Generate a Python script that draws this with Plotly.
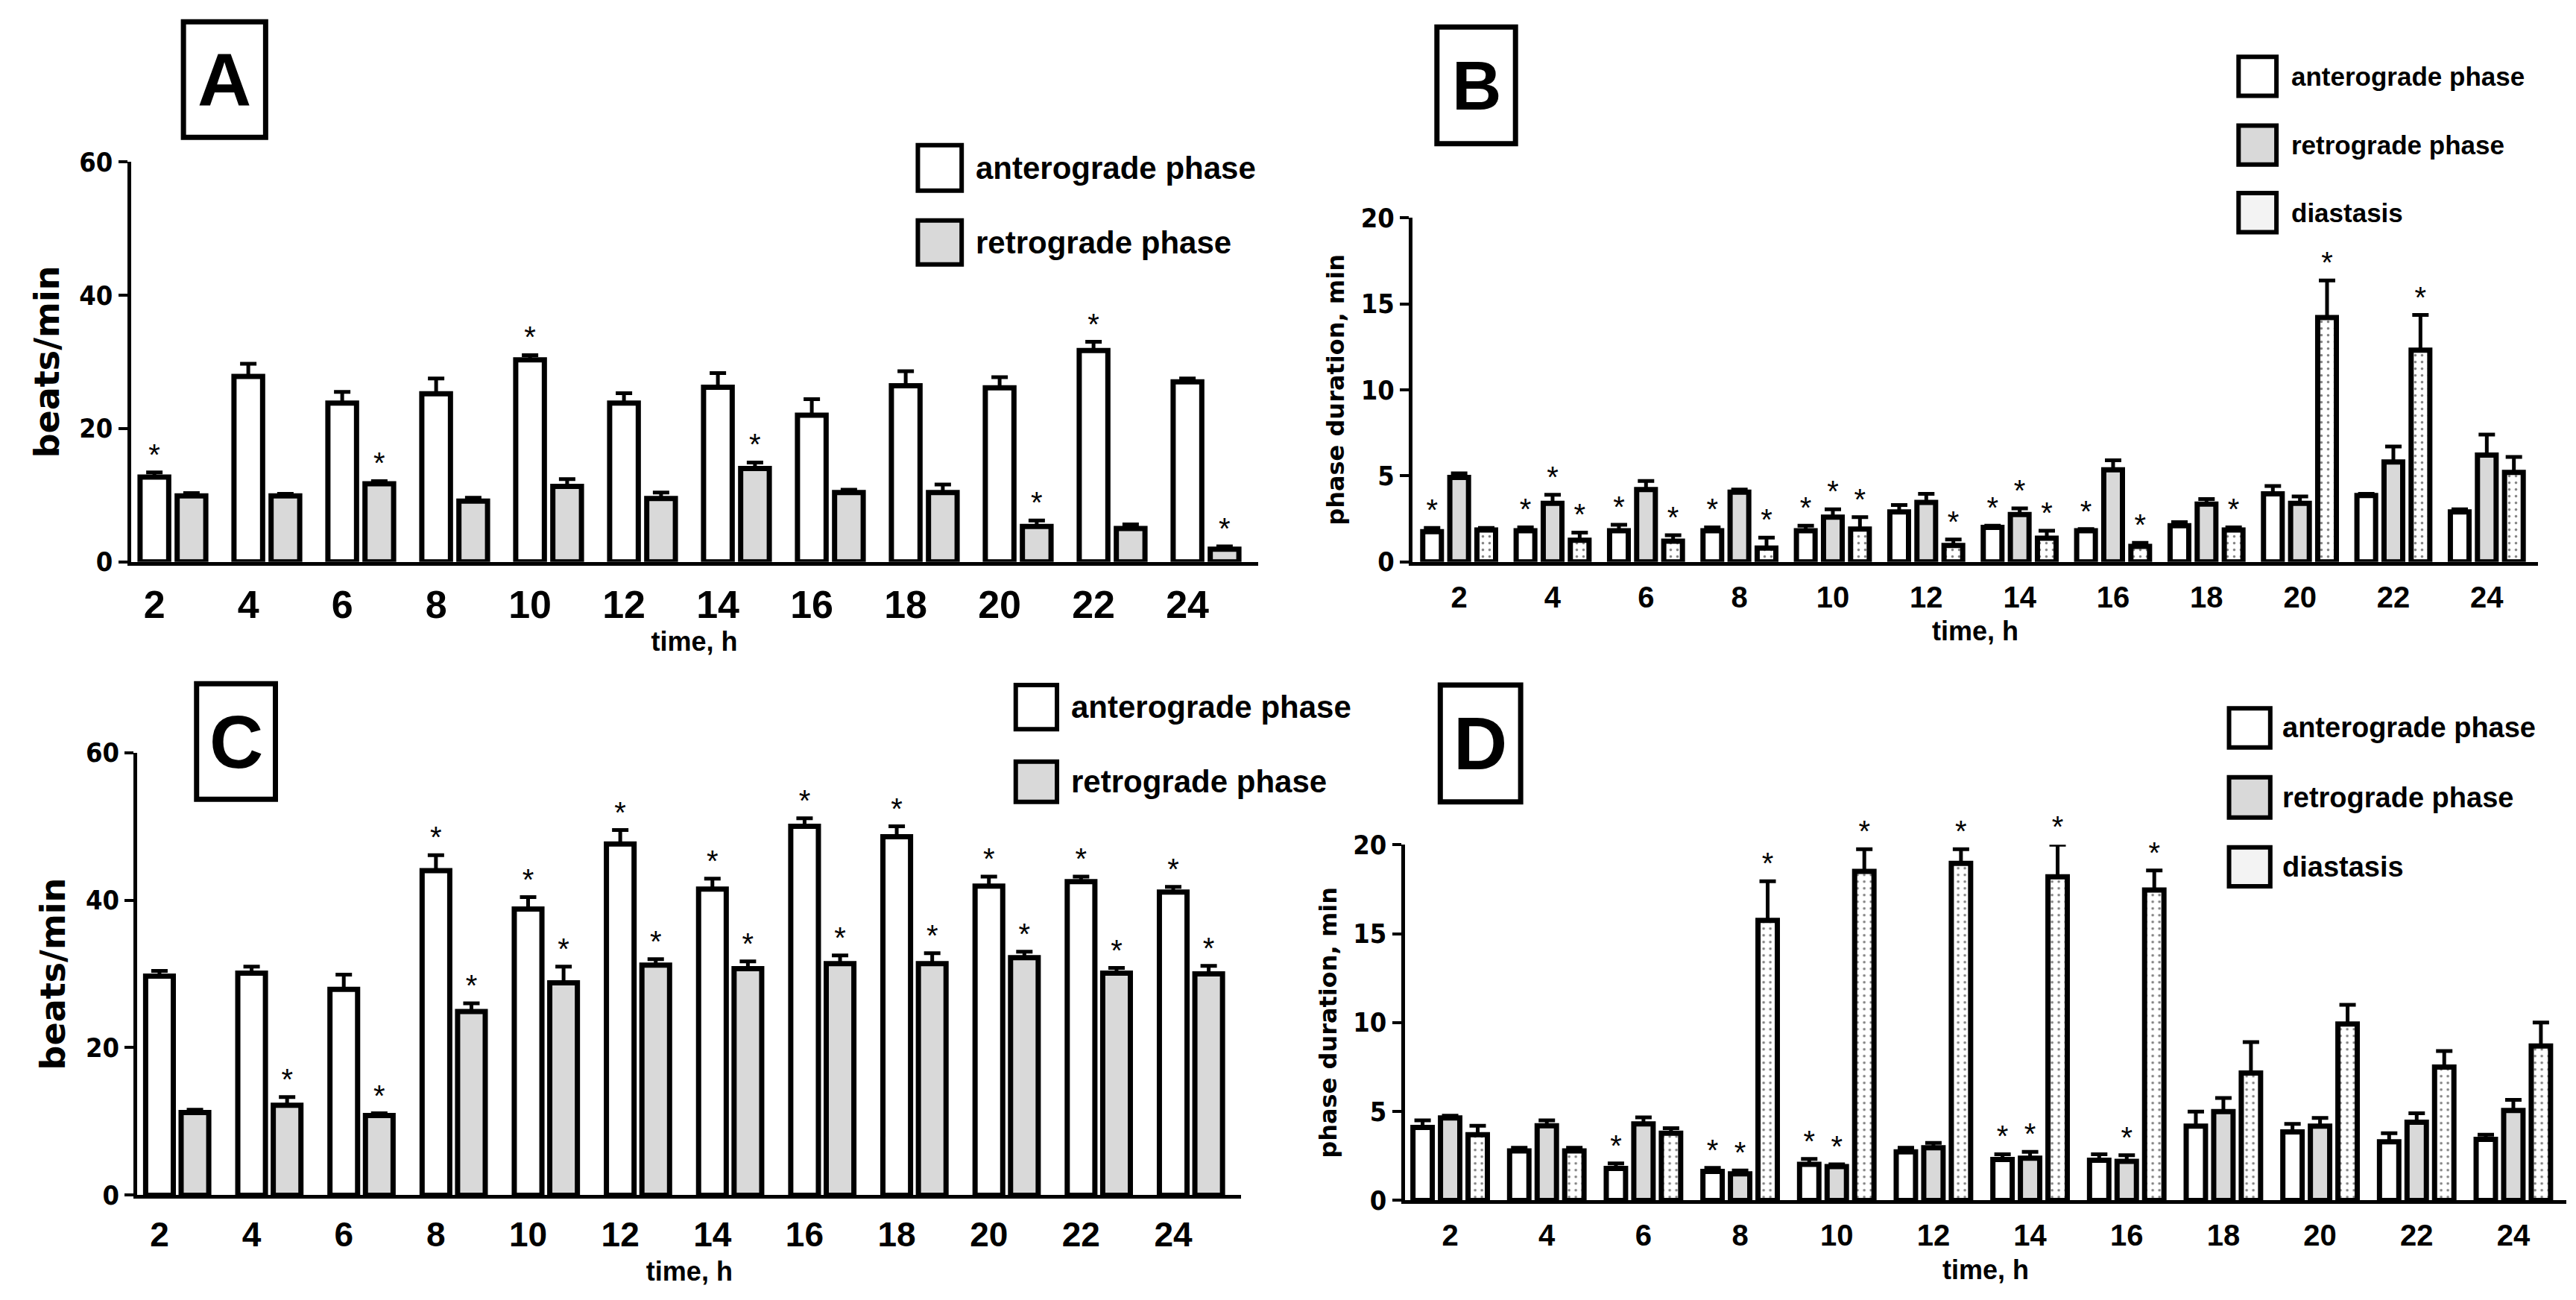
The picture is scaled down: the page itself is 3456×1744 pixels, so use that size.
import plotly.graph_objects as go

hours = [2, 4, 6, 8, 10, 12, 14, 16, 18, 20, 22, 24]

# panel A - beats/min
a_ant = [12.7, 27.8, 23.8, 25.2, 30.3, 23.8, 26.2, 22.0, 26.4, 26.1, 31.7, 27.0]
a_ant_err = [0.7, 1.9, 1.7, 2.3, 0.7, 1.5, 2.1, 2.4, 2.2, 1.6, 1.3, 0.5]
a_ret = [9.9, 9.9, 11.7, 9.1, 11.3, 9.5, 14.0, 10.4, 10.4, 5.3, 5.0, 1.9]
a_ret_err = [0.4, 0.3, 0.4, 0.5, 1.1, 0.9, 0.9, 0.4, 1.2, 0.9, 0.6, 0.4]
a_ant_sig = [1, 0, 0, 0, 1, 0, 0, 0, 0, 0, 1, 0]
a_ret_sig = [0, 0, 1, 0, 0, 0, 1, 0, 0, 1, 0, 1]

# panel B - phase duration, min
b_ant = [1.75, 1.8, 1.8, 1.8, 1.8, 2.9, 2.0, 1.8, 2.1, 3.95, 3.85, 2.9]
b_ant_err = [0.22, 0.2, 0.35, 0.2, 0.3, 0.4, 0.1, 0.1, 0.2, 0.45, 0.1, 0.15]
b_ret = [4.9, 3.4, 4.2, 4.05, 2.6, 3.45, 2.75, 5.35, 3.35, 3.4, 5.8, 6.2]
b_ret_err = [0.24, 0.5, 0.5, 0.15, 0.45, 0.5, 0.35, 0.55, 0.3, 0.4, 0.9, 1.2]
b_dia = [1.85, 1.25, 1.2, 0.8, 1.9, 0.95, 1.37, 0.9, 1.85, 14.2, 12.3, 5.2]
b_dia_err = [0.12, 0.45, 0.35, 0.6, 0.7, 0.35, 0.43, 0.2, 0.15, 2.15, 2.05, 0.9]
b_ant_sig = [1, 1, 1, 1, 1, 0, 1, 1, 0, 0, 0, 0]
b_ret_sig = [0, 1, 0, 0, 1, 0, 1, 0, 0, 0, 0, 0]
b_dia_sig = [0, 1, 1, 1, 1, 1, 1, 1, 1, 1, 1, 0]

# panel C - beats/min
c_ant = [29.7, 30.1, 27.9, 44.0, 38.8, 47.6, 41.5, 50.0, 48.6, 41.9, 42.5, 41.1]
c_ant_err = [0.7, 0.9, 2.0, 2.1, 1.6, 1.9, 1.4, 1.1, 1.4, 1.3, 0.7, 0.7]
c_ret = [11.2, 12.2, 10.8, 24.9, 28.8, 31.2, 30.7, 31.4, 31.4, 32.2, 30.1, 30.0]
c_ret_err = [0.4, 1.1, 0.3, 1.1, 2.2, 0.8, 1.0, 1.1, 1.4, 0.8, 0.7, 1.1]
c_ant_sig = [0, 0, 0, 1, 1, 1, 1, 1, 1, 1, 1, 1]
c_ret_sig = [0, 1, 1, 1, 1, 1, 1, 1, 1, 1, 1, 1]

# panel D - phase duration, min
d_ant = [4.1, 2.78, 1.8, 1.63, 2.03, 2.73, 2.3, 2.26, 4.18, 3.85, 3.3, 3.43]
d_ant_err = [0.4, 0.18, 0.28, 0.2, 0.3, 0.23, 0.3, 0.34, 0.82, 0.45, 0.48, 0.27]
d_ret = [4.64, 4.2, 4.3, 1.5, 1.9, 2.96, 2.38, 2.2, 5.0, 4.18, 4.4, 5.06]
d_ret_err = [0.12, 0.3, 0.37, 0.18, 0.13, 0.28, 0.35, 0.34, 0.76, 0.46, 0.5, 0.6]
d_dia = [3.7, 2.78, 3.78, 15.75, 18.5, 18.95, 18.2, 17.45, 7.16, 9.92, 7.5, 8.68]
d_dia_err = [0.5, 0.18, 0.28, 2.2, 1.25, 0.8, 1.8, 1.1, 1.74, 1.08, 0.9, 1.32]
d_ant_sig = [0, 0, 1, 1, 1, 0, 1, 0, 0, 0, 0, 0]
d_ret_sig = [0, 0, 0, 1, 1, 0, 1, 1, 0, 0, 0, 0]
d_dia_sig = [0, 0, 0, 1, 1, 1, 1, 1, 0, 0, 0, 0]

names = ["anterograde phase", "retrograde phase", "diastasis"]
GRAY = "#d9d9d9"
FONT = "Liberation Sans"
NARROW = "Liberation Sans Narrow, DejaVu Sans Condensed, Liberation Sans"
WIDE = "DejaVu Sans"

fig = go.Figure()


def add_series(xa, ya, vals, err, sig, shift, width, fill, dotted=False):
    xs = [h + shift for h in hours]
    pattern = dict(shape=".", fgcolor="black", bgcolor="white", size=9, solidity=0.12) if dotted else None
    fig.add_trace(go.Bar(
        x=hours, y=vals, xaxis=xa, yaxis=ya,
        offset=shift - width / 2, width=width,
        marker=dict(color=fill, line=dict(color="black", width=7), pattern=pattern),
        error_y=dict(type="data", array=err, arrayminus=[0] * len(err), symmetric=False,
                     color="black", thickness=5, width=11),
        showlegend=False,
    ))
    sx = [x for x, s in zip(xs, sig) if s]
    sy = [v + e for v, e, s in zip(vals, err, sig) if s]
    fig.add_trace(go.Scatter(
        x=sx, y=sy, xaxis=xa, yaxis=ya, mode="text", text=["*"] * len(sx),
        textposition="top center", textfont=dict(family=FONT, size=40, color="black"),
        cliponaxis=False, showlegend=False, hoverinfo="skip",
    ))


# A
add_series("x", "y", a_ant, a_ant_err, a_ant_sig, 0.0, 0.61, "white")
add_series("x", "y", a_ret, a_ret_err, a_ret_sig, 0.79, 0.61, GRAY)
# B
add_series("x2", "y2", b_ant, b_ant_err, b_ant_sig, -0.58, 0.4, "white")
add_series("x2", "y2", b_ret, b_ret_err, b_ret_sig, 0.0, 0.4, GRAY)
add_series("x2", "y2", b_dia, b_dia_err, b_dia_sig, 0.58, 0.4, "white", dotted=True)
# C
add_series("x3", "y3", c_ant, c_ant_err, c_ant_sig, 0.0, 0.6, "white")
add_series("x3", "y3", c_ret, c_ret_err, c_ret_sig, 0.77, 0.6, GRAY)
# D
add_series("x4", "y4", d_ant, d_ant_err, d_ant_sig, -0.57, 0.4, "white")
add_series("x4", "y4", d_ret, d_ret_err, d_ret_sig, 0.0, 0.4, GRAY)
add_series("x4", "y4", d_dia, d_dia_err, d_dia_sig, 0.57, 0.4, "white", dotted=True)


def xaxis(domain, rng, anchor, tsize, standoff):
    return dict(domain=domain, range=rng, anchor=anchor, tickvals=hours, ticks="",
                showline=True, linecolor="black", linewidth=5, showgrid=False, zeroline=False,
                tickfont=dict(family=FONT, size=tsize, color="black", weight="bold"),
                ticklabelstandoff=8,
                title=dict(text="time, h", font=dict(family=FONT, size=36, color="black", weight="bold"),
                           standoff=standoff))


def yaxis(domain, rng, tv, anchor, title, tsize):
    return dict(domain=domain, range=rng, anchor=anchor, tickvals=tv, ticks="outside",
                ticklen=12, tickwidth=4, tickcolor="black",
                showline=True, linecolor="black", linewidth=5, showgrid=False, zeroline=False,
                tickfont=dict(family=NARROW, size=36, color="black", weight="bold"),
                title=dict(text=title, font=dict(family=WIDE, size=tsize, color="black", weight="bold"),
                           standoff=14))


fig.update_layout(
    width=3456, height=1744,
    paper_bgcolor="white", plot_bgcolor="white",
    margin=dict(l=0, r=0, t=0, b=0),
    barmode="overlay",
    xaxis=xaxis([0.0485, 0.486], [1.5, 25.5], "y", 52, 6),
    yaxis=yaxis([0.5739, 0.8889], [0, 60], [0, 20, 40, 60], "x", "beats/min", 46),
    xaxis2=xaxis([0.546, 0.983], [1.0, 25.1], "y2", 40, 14),
    yaxis2=yaxis([0.5739, 0.8449], [0, 20], [0, 5, 10, 15, 20], "x2", "phase duration, min", 32),
    xaxis3=xaxis([0.051, 0.4796], [1.52, 25.48], "y3", 46, 14),
    yaxis3=yaxis([0.0749, 0.4236], [0, 60], [0, 20, 40, 60], "x3", "beats/min", 46),
    xaxis4=xaxis([0.543, 0.994], [1.06, 25.1], "y4", 40, 14),
    yaxis4=yaxis([0.0708, 0.3510], [0, 20], [0, 5, 10, 15, 20], "x4", "phase duration, min", 32),
)

shapes = []
annotations = []

# panel letters in boxes
letters = [("A", 0.0689, 0.1008, 0.9083, 0.9993, 100),
           ("B", 0.5555, 0.586, 0.9032, 0.9952, 92),
           ("C", 0.074, 0.1046, 0.3868, 0.4778, 100),
           ("D", 0.5568, 0.588, 0.3847, 0.4768, 100)]
for t, x0, x1, y0, y1, fs in letters:
    shapes.append(dict(type="rect", xref="paper", yref="paper", x0=x0, x1=x1, y0=y0, y1=y1,
                       line=dict(color="black", width=7), fillcolor="white"))
    annotations.append(dict(text=t, xref="paper", yref="paper", x=(x0 + x1) / 2, y=(y0 + y1) / 2,
                            xanchor="center", yanchor="middle", showarrow=False,
                            font=dict(family=FONT, size=fs, color="black", weight="bold")))

# legends
legends = [
    (0.354, 0.371, [(0.8663, 0.9021), (0.8081, 0.8428)], 0.376, 42),
    (0.8667, 0.8814, [(0.9410, 0.9716), (0.8868, 0.9175), (0.8336, 0.8643)], 0.8865, 35),
    (0.392, 0.408, [(0.4420, 0.4768), (0.3847, 0.4164)], 0.413, 42),
    (0.863, 0.879, [(0.4277, 0.4584), (0.3725, 0.4042), (0.3183, 0.3490)], 0.883, 38),
]
fills = ["white", GRAY, "#f3f3f3"]
for x0, x1, rows, tx, fs in legends:
    for i, (y0, y1) in enumerate(rows):
        shapes.append(dict(type="rect", xref="paper", yref="paper", x0=x0, x1=x1, y0=y0, y1=y1,
                           line=dict(color="black", width=6), fillcolor=fills[i]))
        annotations.append(dict(text=names[i], xref="paper", yref="paper", x=tx, y=(y0 + y1) / 2,
                                xanchor="left", yanchor="middle", showarrow=False,
                                font=dict(family=FONT, size=fs, color="black", weight="bold")))

fig.update_layout(shapes=shapes, annotations=annotations)

fig.write_html("out.html")
